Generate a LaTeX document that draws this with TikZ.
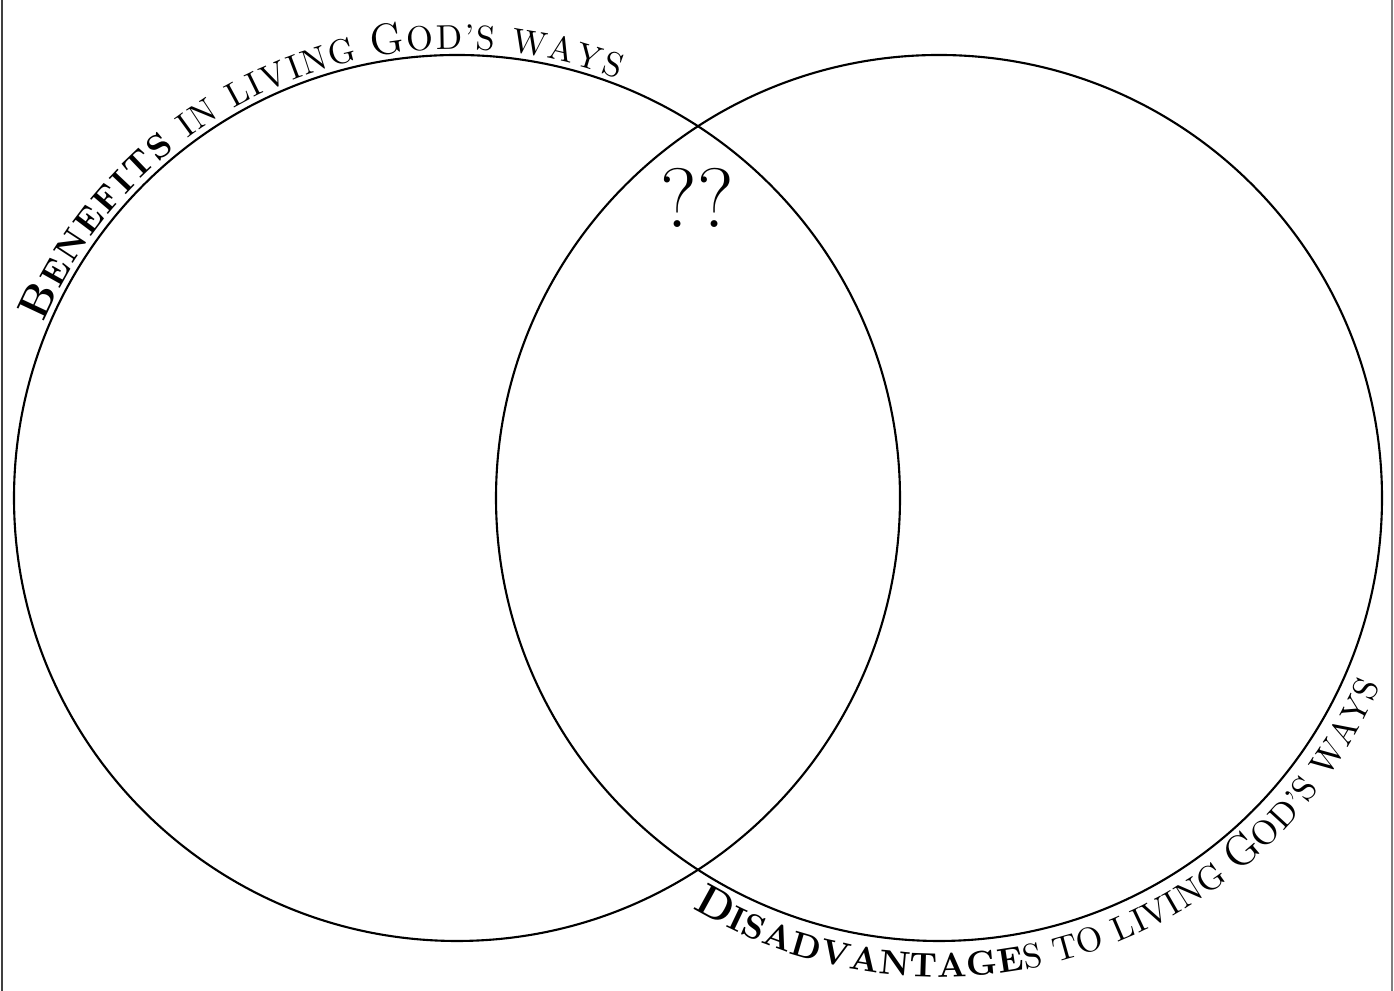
\documentclass[tikz,border=0pt]{standalone}
\usetikzlibrary{decorations.text}
\newcommand\capsize{\fontsize{12.4}{14}\selectfont}
\newcommand\scsize{\fontsize{9.8}{11}\selectfont}

\begin{document}
\begin{tikzpicture}[line width=0.6pt,
      ring/.style={circle, draw, inner sep=0pt, outer sep=0pt, minimum size=8.86cm},
      arctext/.style={decorate, decoration={text along path, text align={fit to path}, text={#1}}}]
    \useasboundingbox (0,0) rectangle (13.94,9.91);
    \draw[black!75] (0.02,0) -- (0.02,9.91);
    \draw[black!50, line width=0.4pt] (13.92,0) -- (13.92,9.91);
    \node[ring] (benefits) at (4.57,4.93) {};
    \node[ring] (drawbacks) at (9.39,4.93) {};
    \node[font=\fontsize{24}{28}\selectfont] (unknown) at (6.97,7.93) {??};
    \path[arctext={|\bfseries\capsize|B|\bfseries\scsize|ENEFITS|\mdseries\scsize| IN LIVING |\capsize|G|\scsize|OD'S WAYS}]
      ([shift={(157:4.49)}]benefits.center) arc[start angle=157, end angle=69, radius=4.49];
    \path[arctext={|\bfseries\capsize|D|\bfseries\scsize|ISADVANTAGE|\mdseries\scsize|S TO LIVING |\capsize|G|\scsize|OD'S WAYS}]
      ([shift={(-121:4.79)}]drawbacks.center) arc[start angle=-121, end angle=-23, radius=4.79];
  \end{tikzpicture}
\end{document}
